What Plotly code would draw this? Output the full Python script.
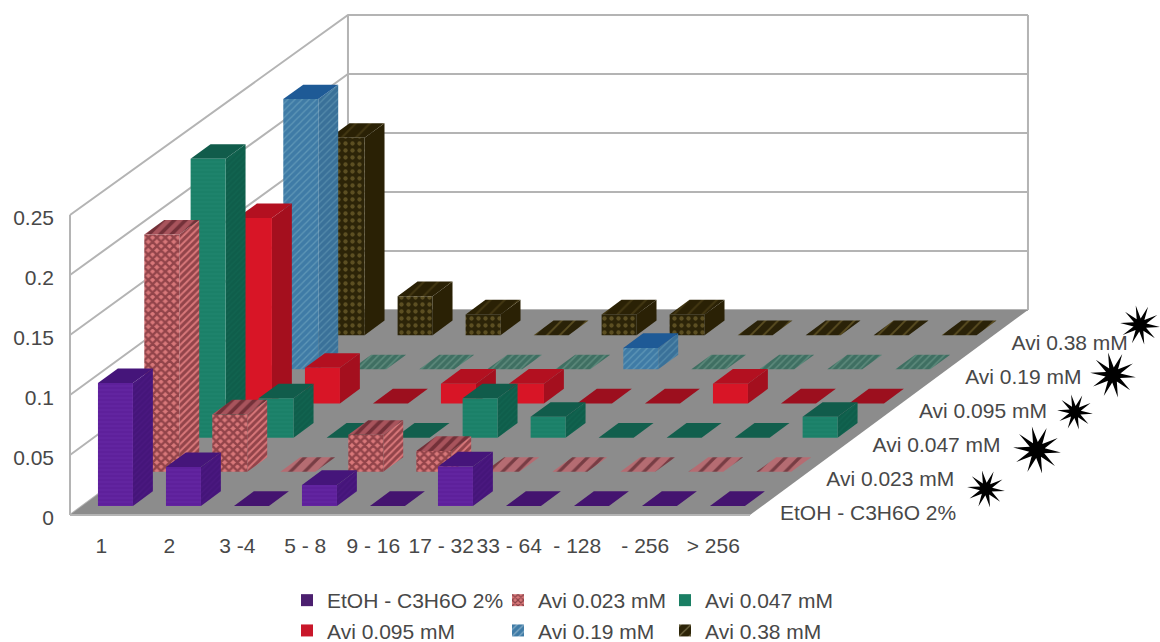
import math
import plotly.graph_objects as go

categories = ["1", "2", "3 -4", "5 - 8", "9 - 16", "17 - 32", "33 - 64", "- 128", "- 256", "> 256"]
series_names = ["EtOH - C3H6O 2%", "Avi 0.023 mM", "Avi 0.047 mM", "Avi 0.095 mM", "Avi 0.19 mM", "Avi 0.38 mM"]
etoh = [0.1025, 0.0325, 0, 0.0175, 0, 0.033, 0, 0, 0, 0]
avi_0023 = [0.1985, 0.048, 0, 0.031, 0.0175, 0, 0, 0, 0, 0]
avi_0047 = [0.234, 0.033, 0, 0, 0.033, 0.0175, 0, 0, 0, 0.0175]
avi_0095 = [0.156, 0.03, 0, 0.0167, 0.0167, 0, 0, 0.0167, 0, 0]
avi_019 = [0.228, 0, 0, 0, 0, 0.018, 0, 0, 0, 0]
avi_038 = [0.167, 0.033, 0.0175, 0, 0.0175, 0.0175, 0, 0, 0, 0]
all_series = [etoh, avi_0023, avi_0047, avi_0095, avi_019, avi_038]
y_ticks = [0, 0.05, 0.1, 0.15, 0.2, 0.25]
y_tick_text = ["0", "0.05", "0.1", "0.15", "0.2", "0.25"]

# oblique projection, in axis units
W, H = 1160, 642
PX_X, PX_Y = 68.0, 1200.0
L_M, B_PX, ZERO_PX = 55, 531, 515
DX, DY = 46.33 / PX_X, 34.17 / PX_Y


def proj(c, d, v):
    return c + DX * d, v * (1 - 0.0028 * d) + DY * d


def px(xp, yp):
    return (xp - 70) / PX_X, (ZERO_PX - yp) / PX_Y


BAR_L, BAR_W, BAR_D, D0 = 0.232, 35 / 68, 0.43, 0.263

styles = [
    dict(front=("#5e209b", "#6a2aa8", "-", 4, .35), side=("#45157a", "#521c88", "/", 4, .3), top=("#45157a",), flat=("#44146f",)),
    dict(front=("#d9787a", "#4c101a", "x", 6, .65), side=("#d9787a", "#4c101a", "/", 5, .6), top=("#a8545c", "#3e0d15", "/", 8, .45), flat=("#b56c72", "#3a0d15", "/", 10, .32)),
    dict(front=("#1b8068", "#238a72", "-", 4, .3), side=("#0f5e4b", "#146a55", "/", 4, .3), top=("#115c4b",), flat=("#125f4d",)),
    dict(front=("#d81526", ), side=("#a40f1e",), top=("#b31020",), flat=("#9c0f1e",)),
    dict(front=("#3f7ba6", "#7fb4c8", "/", 5, .25), side=("#3a7199", "#6fa5bd", "/", 5, .25), top=("#1e5a96",), flat=("#3f6f62", "#7ba595", "/", 5, .3)),
    dict(front=("#2c2408", "#8c7a3c", ".", 7, .3), side=("#2a2105",), top=("#2a2105", "#5a4c20", "/", 10, .2), flat=("#2a2208", "#8c7a3c", "/", 9, .2)),
]


def poly(points, style):
    kw = dict(fillcolor=style[0])
    if len(style) > 1:
        kw["fillpattern"] = dict(bgcolor=style[0], fgcolor=style[1], shape=style[2], size=style[3], solidity=style[4])
    xs, ys = zip(*(points + points[:1]))
    return go.Scatter(x=xs, y=ys, mode="lines", fill="toself", line=dict(width=0), showlegend=False, hoverinfo="skip", **kw)


fig = go.Figure()

# walls
lines_x, lines_y = [], []
for t in y_ticks:
    a, b, c = proj(0, 0, t), proj(0, 6, t), proj(10, 6, t)
    lines_x += [a[0], b[0], c[0], None]
    lines_y += [a[1], b[1], c[1], None]
for cc, dd in ((0, 0), (0, 6), (10, 6)):
    a, b = proj(cc, dd, 0), proj(cc, dd, 0.25)
    lines_x += [a[0], b[0], None]
    lines_y += [a[1], b[1], None]
fig.add_trace(go.Scatter(x=lines_x, y=lines_y, mode="lines", line=dict(color="#b4b4b4", width=2), showlegend=False, hoverinfo="skip"))

# floor and its front edge
fig.add_trace(poly([proj(0, 0, 0), proj(10, 0, 0), proj(10, 6, 0), proj(0, 6, 0)], ("#8c8c8c",)))
e0, e1 = proj(0, 0, 0), proj(10, 0, 0)
fig.add_trace(go.Scatter(x=[e0[0], e1[0]], y=[e0[1], e1[1]], mode="lines", line=dict(color="#b4b4b4", width=2), showlegend=False, hoverinfo="skip"))

# bars, back to front
for s in range(5, -1, -1):
    st = styles[s]
    for i, val in enumerate(all_series[s]):
        c0, c1 = i + BAR_L, i + BAR_L + BAR_W
        d0, d1 = s + D0, s + D0 + BAR_D
        if val == 0:
            fig.add_trace(poly([proj(c0, d0, 0), proj(c1, d0, 0), proj(c1, d1, 0), proj(c0, d1, 0)], st["flat"]))
            continue
        fig.add_trace(poly([proj(c1, d0, 0), proj(c1, d1, 0), proj(c1, d1, val), proj(c1, d0, val)], st["side"]))
        fig.add_trace(poly([proj(c0, d0, val), proj(c1, d0, val), proj(c1, d1, val), proj(c0, d1, val)], st["top"]))
        fig.add_trace(poly([proj(c0, d0, 0), proj(c1, d0, 0), proj(c1, d0, val), proj(c0, d0, val)], st["front"]))

FONT = dict(family="Liberation Sans", size=21, color="#484848")

# depth axis labels
lab_x, lab_y = [], []
for s in range(6):
    xp, yp = px(780 + 46.3 * s, 515 - 34 * s)
    lab_x.append(xp)
    lab_y.append(yp)
fig.add_trace(go.Scatter(x=lab_x, y=lab_y, mode="text", text=series_names, textposition="middle right",
                         textfont=FONT, showlegend=False, hoverinfo="skip"))

# star marks
star_px = [(986, 489), (1037, 450), (1075, 412), (1113, 375), (1140, 325)]
star_r = [19, 24, 18, 23, 20]
for (cx, cy), r in zip(star_px, star_r):
    pts = []
    for k in range(20):
        rad = r if k % 2 == 0 else r * 0.33
        ang = math.pi * k / 10 + 0.1
        pts.append(px(cx + rad * math.cos(ang), cy + rad * math.sin(ang)))
    fig.add_trace(poly(pts, ("#000000",)))

# legend
legend_of = ["legend", "legend2", "legend3", "legend", "legend2", "legend3"]
swatch = ["#4b1f6f", "#d9787a", "#1a7f64", "#c9172a", "#3f7ba6", "#2c2408"]
pat = [dict(), dict(shape="x", fgcolor="#3e0d15", bgcolor="#d9787a", size=5, solidity=.5), dict(),
       dict(), dict(shape="/", fgcolor="#cfe0e8", bgcolor="#3f7ba6", size=6, solidity=.25), dict(shape="/", fgcolor="#d8cfa0", bgcolor="#2c2408", size=9, solidity=.15)]
for s in range(6):
    fig.add_trace(go.Bar(x=[None], y=[None], name=series_names[s], legend=legend_of[s], showlegend=True,
                         marker=dict(color=swatch[s], pattern=pat[s], line=dict(width=0))))


def leg(xp):
    return dict(x=xp / W, y=(H - 580) / H, xanchor="left", yanchor="top", font=FONT,
                bgcolor="rgba(0,0,0,0)", orientation="v", traceorder="normal", tracegroupgap=0)


fig.update_layout(
    width=W, height=H, margin=dict(l=0, r=0, t=0, b=0, autoexpand=False), paper_bgcolor="white", plot_bgcolor="white",
    showlegend=True, legend=leg(287), legend2=leg(498), legend3=leg(665),
    xaxis=dict(domain=[L_M / W, 1], range=[(L_M - 70) / PX_X, (W - 70) / PX_X], tickvals=[i + 0.46 for i in range(10)], ticktext=categories,
               tickangle=0, showgrid=False, zeroline=False, showline=False, ticks="", tickfont=FONT),
    yaxis=dict(domain=[(H - B_PX) / H, 1], range=[(ZERO_PX - B_PX) / PX_Y, ZERO_PX / PX_Y], tickvals=[t - 0.002 for t in y_ticks], ticktext=y_tick_text,
               showgrid=False, zeroline=False, showline=False, ticks="", tickfont=FONT),
)
fig.write_html("out.html", config={"displayModeBar": False},
               post_script="document.body.style.margin='0';document.documentElement.style.overflow='hidden';")
